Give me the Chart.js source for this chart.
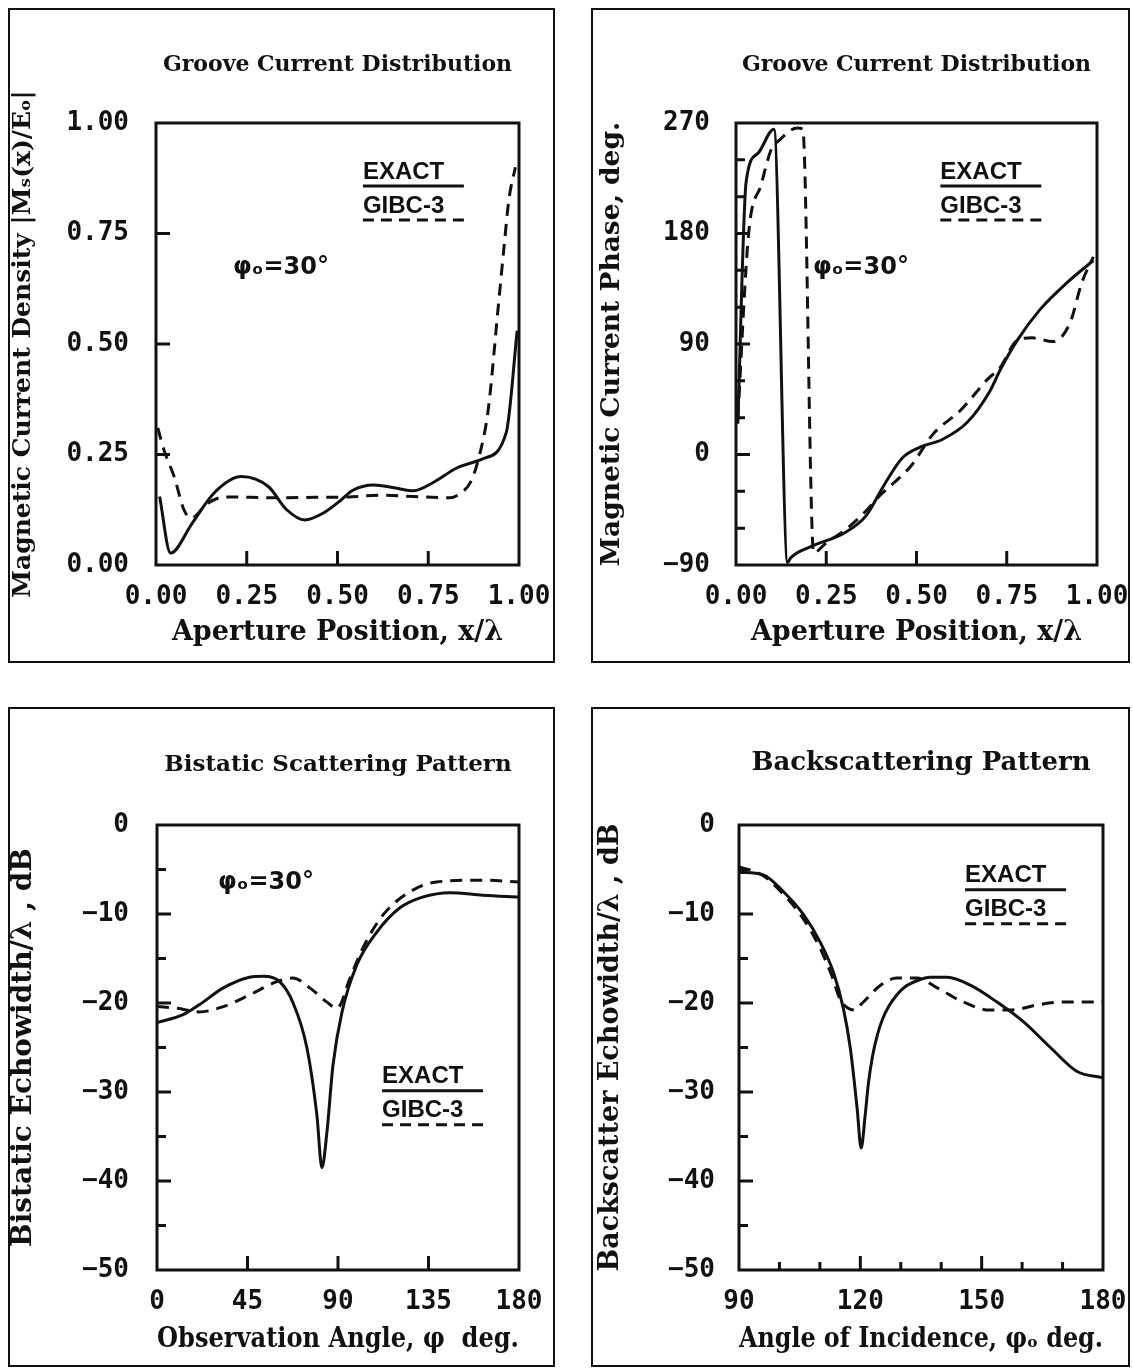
<!DOCTYPE html>
<html>
<head>
<meta charset="utf-8">
<script src="https://cdn.jsdelivr.net/npm/chart.js@4.4.1/dist/chart.umd.min.js"></script>
<style>
  html, body { margin: 0; padding: 0; background: #fff; }
  body { width: 1133px; height: 1368px; position: relative; overflow: hidden; }
  .panel { position: absolute; border: 2px solid #111; box-sizing: border-box; }
  .panel canvas { position: absolute; left: 0; top: 0; }
</style>
</head>
<body>
<div class="panel" style="left:8px;top:8px;width:547px;height:655px"><canvas id="c1" width="543" height="651"></canvas></div>
<div class="panel" style="left:591px;top:8px;width:539px;height:655px"><canvas id="c2" width="535" height="651"></canvas></div>
<div class="panel" style="left:8px;top:707px;width:547px;height:660px"><canvas id="c3" width="543" height="656"></canvas></div>
<div class="panel" style="left:591px;top:707px;width:539px;height:660px"><canvas id="c4" width="535" height="656"></canvas></div>
<script>
// groove current magnitude |Ms(x)/Eo| vs x/lambda
let magExactX = [0.01, 0.04, 0.10, 0.16, 0.235, 0.31, 0.36, 0.41, 0.46, 0.51, 0.54, 0.60, 0.66, 0.71, 0.76, 0.83, 0.90, 0.965, 0.995]
let magExactY = [0.155, 0.027, 0.095, 0.163, 0.200, 0.177, 0.125, 0.102, 0.117, 0.147, 0.168, 0.181, 0.174, 0.168, 0.185, 0.220, 0.240, 0.300, 0.530]
let magGibcX = [0.005, 0.022, 0.05, 0.077, 0.096, 0.143, 0.19, 0.33, 0.44, 0.53, 0.62, 0.71, 0.81, 0.84, 0.868, 0.89, 0.915, 0.942, 0.96, 0.972, 0.99]
let magGibcY = [0.31, 0.26, 0.20, 0.125, 0.106, 0.140, 0.154, 0.152, 0.153, 0.154, 0.158, 0.155, 0.152, 0.163, 0.19, 0.245, 0.35, 0.577, 0.73, 0.826, 0.90]

// groove current phase, deg
let phaseExactX = [0.005, 0.028, 0.06, 0.105, 0.143, 0.152, 0.207, 0.30, 0.36, 0.41, 0.46, 0.51, 0.57, 0.64, 0.704, 0.732, 0.779, 0.842, 0.917, 0.99]
let phaseExactY = [25, 222, 245, 265, -88, -84, -75, -64, -50, -25, -3, 6, 12, 26, 52, 69, 93, 118, 140, 158]
let phaseGibcX = [0.005, 0.035, 0.07, 0.097, 0.12, 0.17, 0.185, 0.215, 0.25, 0.30, 0.35, 0.40, 0.456, 0.483, 0.547, 0.622, 0.696, 0.732, 0.779, 0.82, 0.878, 0.925, 0.958, 0.99]
let phaseGibcY = [30, 180, 220, 248, 256, 266, 265, -80, -72, -62, -49, -33, -18, -10, 17, 36, 61, 71, 93, 95, 92, 107, 140, 161]

// bistatic echowidth, dB vs observation angle
let bistaticExactX = [0, 13, 21, 33, 46, 53, 61, 67.5, 74.5, 79.5, 82, 84.5, 87.5, 92, 99.4, 109.4, 120.8, 132, 146, 162, 180]
let bistaticExactY = [-22.2, -21.3, -20.2, -18.3, -17.1, -17.0, -17.6, -19.9, -25, -32.6, -38.5, -34.5, -27, -21, -15.7, -12, -9.3, -8.1, -7.6, -7.9, -8.1]
let bistaticGibcX = [0, 10, 21, 33, 46, 59.6, 67.6, 76, 84.5, 89.5, 96, 102.4, 112.4, 125.8, 139, 162, 180]
let bistaticGibcY = [-20.4, -20.6, -21, -20.4, -19.1, -17.6, -17.2, -18.3, -19.9, -20.6, -17.2, -13.8, -10.1, -7.5, -6.4, -6.2, -6.4]

// backscatter echowidth, dB vs angle of incidence
let backExactX = [90, 96, 101, 106, 110, 113.3, 115.8, 117.5, 119.2, 120.2, 121.2, 122, 123, 124.2, 125.5, 127, 129, 131, 134, 137.3, 141.5, 147.2, 153.8, 160.3, 167, 173.6, 180]
let backExactY = [-5.3, -5.6, -7.5, -10.1, -13.1, -16.5, -20.6, -25, -31.8, -36.3, -32.6, -29, -26, -23.6, -21.8, -20.4, -19.1, -18.2, -17.5, -17.1, -17.1, -18, -19.9, -22.1, -25, -27.7, -28.4]
let backGibcX = [90, 96, 101, 106, 110, 113, 115, 117, 118.5, 120.5, 125, 129, 134, 139, 145.5, 152, 157, 164, 170, 180]
let backGibcY = [-4.7, -5.7, -7.8, -10.6, -13.8, -17, -19.6, -20.6, -20.8, -20, -18, -17.2, -17.2, -18.3, -19.9, -20.8, -20.8, -20.2, -19.9, -19.9]

let seriesNames = ['EXACT', 'GIBC-3']
let noteText = 'φₒ=30°'

const INK = '#111'
const MONO = '"DejaVu Sans Mono", monospace'
const SERIF = '"DejaVu Serif", serif'
const SANS = '"Liberation Sans", "DejaVu Sans", sans-serif'

function pts(xs, ys) {
    return xs.map(function (x, i) { return {x: x, y: ys[i]} })
}

function minus(v, digits) {
    let s = digits ? Math.abs(v).toFixed(digits) : String(Math.abs(v))
    return v < 0 ? '\u2212' + s : s
}

// full box, inward ticks, title, legend and note
const deco = {
    id: 'deco',
    afterDraw(chart, args, o) {
        const ctx = chart.ctx
        const a = chart.chartArea
        const xs = chart.scales.x, ys = chart.scales.y
        ctx.save()
        ctx.strokeStyle = INK
        ctx.fillStyle = INK
        ctx.lineWidth = 3
        ctx.setLineDash([])

        ctx.beginPath()
        ;(o.xMajor || []).forEach(function (v) { let p = xs.getPixelForValue(v); ctx.moveTo(p, a.bottom); ctx.lineTo(p, a.bottom - 14) })
        ;(o.xMinor || []).forEach(function (v) { let p = xs.getPixelForValue(v); ctx.moveTo(p, a.bottom); ctx.lineTo(p, a.bottom - 8) })
        ;(o.yMajor || []).forEach(function (v) { let p = ys.getPixelForValue(v); ctx.moveTo(a.left, p); ctx.lineTo(a.left + 14, p) })
        ;(o.yMinor || []).forEach(function (v) { let p = ys.getPixelForValue(v); ctx.moveTo(a.left, p); ctx.lineTo(a.left + 9, p) })
        ctx.stroke()

        ctx.strokeRect(a.left, a.top, a.right - a.left, a.bottom - a.top)

        ctx.textAlign = 'center'
        ctx.textBaseline = 'middle'
        ctx.font = o.titleFont
        ctx.fillText(o.title, (a.left + a.right) / 2, a.top - o.titleGap)

        let lx = xs.getPixelForValue(o.legendAt[0])
        let ly = ys.getPixelForValue(o.legendAt[1])
        ctx.textAlign = 'left'
        ctx.font = 'bold 24px ' + SANS
        ctx.fillText(seriesNames[0], lx, ly)
        ctx.fillText(seriesNames[1], lx, ly + 34)
        ctx.beginPath()
        ctx.moveTo(lx, ly + 14); ctx.lineTo(lx + 101, ly + 14)
        ctx.stroke()
        ctx.setLineDash([11, 7])
        ctx.beginPath()
        ctx.moveTo(lx, ly + 48); ctx.lineTo(lx + 101, ly + 48)
        ctx.stroke()
        ctx.setLineDash([])

        if (o.noteAt) {
            ctx.font = 'bold 24px "DejaVu Sans", sans-serif'
            ctx.fillText(noteText, xs.getPixelForValue(o.noteAt[0]), ys.getPixelForValue(o.noteAt[1]))
        }
        ctx.restore()
    }
}

function makeChart(id, p) {
    let tickFont = {family: MONO, size: 26, weight: 'bold'}
    return new Chart(document.getElementById(id), {
        type: 'line',
        data: {
            datasets: [
                {label: seriesNames[0], data: pts(p.exact[0], p.exact[1]), borderDash: []},
                {label: seriesNames[1], data: pts(p.gibc[0], p.gibc[1]), borderDash: [12, 8]}
            ]
        },
        options: {
            responsive: false,
            animation: false,
            devicePixelRatio: 1,
            layout: {padding: {top: p.padTop, right: p.padRight, bottom: 0, left: 0}},
            elements: {
                point: {radius: 0},
                line: {borderColor: INK, borderWidth: 3, cubicInterpolationMode: 'monotone', fill: false}
            },
            plugins: {
                legend: {display: false},
                tooltip: {enabled: false},
                deco: p.deco
            },
            scales: {
                x: {
                    type: 'linear', min: p.xRange[0], max: p.xRange[1],
                    afterFit: function (s) { s.height = p.xHeight; s.paddingLeft = 0; s.paddingRight = 0 },
                    grid: {display: false, drawTicks: false},
                    border: {display: false},
                    ticks: {stepSize: p.xStep, font: tickFont, color: INK, padding: 17, maxRotation: 0, autoSkip: false,
                        callback: function (v) { return minus(v, p.xDigits) }},
                    title: {display: true, text: p.xTitle, color: INK, padding: {top: 0, bottom: p.xTitlePad},
                        font: {family: SERIF, size: p.xTitleSize, weight: 'bold'}}
                },
                y: {
                    type: 'linear', min: p.yRange[0], max: p.yRange[1],
                    afterFit: function (s) { s.width = p.yWidth; s.paddingTop = 0; s.paddingBottom = 0 },
                    grid: {display: false, drawTicks: false},
                    border: {display: false},
                    ticks: {stepSize: p.yStep, font: tickFont, color: INK, padding: p.yTickPad, autoSkip: false,
                        callback: function (v) { return minus(v, p.yDigits) }},
                    title: {display: true, text: p.yTitle, color: INK, padding: {top: p.yTitlePad, bottom: 0},
                        font: {family: SERIF, size: p.yTitleSize, weight: 'bold', lineHeight: 1}}
                }
            }
        },
        plugins: [deco]
    })
}

makeChart('c1', {
    exact: [magExactX, magExactY], gibc: [magGibcX, magGibcY],
    xRange: [0, 1], xStep: 0.25, xDigits: 2, yRange: [0, 1], yStep: 0.25, yDigits: 2,
    padTop: 113, padRight: 34, xHeight: 96, yWidth: 146, yTickPad: 27, yTitlePad: 1, xTitlePad: 12,
    xTitle: 'Aperture Position, x/λ', xTitleSize: 27, yTitle: 'Magnetic Current Density |Mₛ(x)/Eₒ|', yTitleSize: 25,
    deco: {title: 'Groove Current Distribution', titleFont: 'bold 22px ' + SERIF, titleGap: 58,
        xMajor: [0.25, 0.5, 0.75], yMajor: [0.25, 0.5, 0.75], legendAt: [0.57, 0.889], noteAt: [0.212, 0.672]}
})

makeChart('c2', {
    exact: [phaseExactX, phaseExactY], gibc: [phaseGibcX, phaseGibcY],
    xRange: [0, 1], xStep: 0.25, xDigits: 2, yRange: [-90, 270], yStep: 90, yDigits: 0,
    padTop: 113, padRight: 31, xHeight: 96, yWidth: 143, yTickPad: 26, yTitlePad: 6, xTitlePad: 12,
    xTitle: 'Aperture Position, x/λ', xTitleSize: 27, yTitle: 'Magnetic Current Phase, deg.', yTitleSize: 26.5,
    deco: {title: 'Groove Current Distribution', titleFont: 'bold 22px ' + SERIF, titleGap: 58,
        xMajor: [0.25, 0.5, 0.75], yMajor: [0, 90, 180], yMinor: [-60, -30, 30, 60, 120, 150, 210, 240],
        legendAt: [0.566, 230], noteAt: [0.213, 152]}
})

makeChart('c3', {
    exact: [bistaticExactX, bistaticExactY], gibc: [bistaticGibcX, bistaticGibcY],
    xRange: [0, 180], xStep: 45, xDigits: 0, yRange: [-50, 0], yStep: 10, yDigits: 0,
    padTop: 116, padRight: 34, xHeight: 95, yWidth: 147, yTickPad: 28, yTitlePad: 0, xTitlePad: 9,
    xTitle: 'Observation Angle, φ  deg.', xTitleSize: 27.5, yTitle: 'Bistatic Echowidth/λ , dB', yTitleSize: 28,
    deco: {title: 'Bistatic Scattering Pattern', titleFont: 'bold 23px ' + SERIF, titleGap: 60,
        xMajor: [45, 90, 135], yMajor: [-40, -30, -20, -10], yMinor: [-45, -35, -25, -15, -5],
        legendAt: [111.9, -28.3], noteAt: [30.3, -6.5]}
})

makeChart('c4', {
    exact: [backExactX, backExactY], gibc: [backGibcX, backGibcY],
    xRange: [90, 180], xStep: 30, xDigits: 0, yRange: [-50, 0], yStep: 10, yDigits: 0,
    padTop: 116, padRight: 25, xHeight: 95, yWidth: 146, yTickPad: 24, yTitlePad: 4, xTitlePad: 9,
    xTitle: 'Angle of Incidence, φₒ deg.', xTitleSize: 27.5, yTitle: 'Backscatter Echowidth/λ , dB', yTitleSize: 27,
    deco: {title: 'Backscattering Pattern', titleFont: 'bold 26px ' + SERIF, titleGap: 62,
        xMajor: [120, 150], xMinor: [100, 110, 130, 140, 160, 170], yMajor: [-40, -30, -20, -10], yMinor: [-45, -35, -25, -15, -5],
        legendAt: [145.9, -5.7]}
})
</script>
</body>
</html>
